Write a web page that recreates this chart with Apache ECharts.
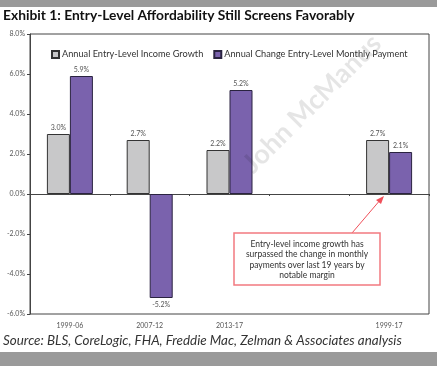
<!DOCTYPE html>
<html>
<head>
<meta charset="utf-8">
<script src="https://cdn.jsdelivr.net/npm/echarts@6/dist/echarts.min.js"></script>
<style>
html,body{margin:0;padding:0;background:#fff;}
#c{width:437px;height:366px;}
</style>
</head>
<body>
<div id="c"></div>
<script>
const categories = ['1999-06', '2007-12', '2013-17', '', '1999-17'];
const incomeGrowth = [3.0, 2.7, 2.2, null, 2.7];
const paymentChange = [5.9, -5.2, 5.2, null, 2.1];
const seriesNames = ['Annual Entry-Level Income Growth', 'Annual Change Entry-Level Monthly Payment'];
const yTicks = { min: -6, max: 8, interval: 2 };
const titleText = 'Exhibit 1: Entry-Level Affordability Still Screens Favorably';
const sourceText = 'Source: BLS, CoreLogic, FHA, Freddie Mac, Zelman & Associates analysis';
const noteLines = ['Entry-level income growth has', 'surpassed the change in monthly', 'payments over last 19 years by', 'notable margin'];

const chart = echarts.init(document.getElementById('c'), null, { renderer: 'canvas' });
const FONT = 'Lato, "Open Sans", sans-serif';
const labelCfg = {
  show: true, position: 'top', distance: 3, fontSize: 7, color: '#555', fontFamily: FONT,
  formatter: p => p.value == null ? '' : p.value.toFixed(1) + '%'
};
function mkData(arr) {
  return arr.map(v => (v != null && v < 0) ? { value: v, label: { position: 'bottom' } } : v);
}
const option = {
  backgroundColor: '#fff',
  animation: false,
  grid: { left: 30, right: 8, top: 34, bottom: 52, show: true, borderColor: '#444', borderWidth: 1, containLabel: false },
  legend: {
    left: 46, top: 45, itemWidth: 7, itemHeight: 7, itemGap: 10,
    icon: 'rect',
    textStyle: { fontSize: 9.2, color: '#333', fontFamily: FONT, padding: [0, 0, 0, -2] },
    data: seriesNames
  },
  xAxis: [
    {
      type: 'category', data: categories,
      axisLine: { onZero: true, lineStyle: { color: '#444', width: 1 } },
      axisTick: { show: true, length: 2, lineStyle: { color: '#444' } },
      axisLabel: { show: false }, splitLine: { show: false }
    },
    {
      type: 'category', data: categories, position: 'bottom',
      axisLine: { show: false }, axisTick: { show: false },
      axisLabel: { show: true, fontSize: 7, color: '#555', margin: 8, fontFamily: FONT }
    }
  ],
  yAxis: {
    type: 'value', min: yTicks.min, max: yTicks.max, interval: yTicks.interval,
    axisLine: { show: true, lineStyle: { color: '#444' } },
    axisTick: { show: true, length: 3, lineStyle: { color: '#444' } },
    splitLine: { show: false },
    axisLabel: { fontSize: 7, color: '#555', margin: 5, fontFamily: FONT, formatter: v => v.toFixed(1) + '%' }
  },
  series: [
    {
      name: seriesNames[0], type: 'bar', xAxisIndex: 0, data: mkData(incomeGrowth),
      barWidth: 23, barGap: '0%',
      itemStyle: { color: '#c8c8c9', borderColor: '#333', borderWidth: 1 },
      label: labelCfg
    },
    {
      name: seriesNames[1], type: 'bar', xAxisIndex: 0, data: mkData(paymentChange),
      barWidth: 23, barGap: '0%',
      itemStyle: { color: '#7a62ad', borderColor: '#2a2340', borderWidth: 1 },
      label: labelCfg
    }
  ],
  graphic: [
    { type: 'rect', left: 0, top: 0, shape: { width: 437, height: 7 }, style: { fill: '#9a9a9a' }, z: 10 },
    { type: 'rect', left: 0, top: 352, shape: { width: 437, height: 14 }, style: { fill: '#9a9a9a' }, z: 10 },
    { type: 'text', left: 3, top: 9, style: { text: titleText, fontSize: 13.8, fontWeight: 'bold', fill: '#111', fontFamily: FONT }, z: 10 },
    { type: 'text', left: 3, top: 334, style: { text: sourceText, fontSize: 13.4, fontStyle: 'italic', fill: '#333', fontFamily: FONT }, z: 10 },
    { type: 'text', x: 257, y: 178, rotation: Math.PI / 4, style: { text: 'John McManus', fontSize: 27, fontWeight: 'bold', fill: 'rgba(0,0,0,0.1)', fontFamily: FONT, textAlign: 'left', textVerticalAlign: 'bottom' }, z: 20, silent: true },
    { type: 'line', shape: { x1: 352, y1: 233, x2: 381, y2: 199 }, style: { stroke: '#f0505a', lineWidth: 1 }, z: 12 },
    { type: 'polygon', shape: { points: [[384, 196], [376, 200], [381, 204]] }, style: { fill: '#f0505a' }, z: 12 },
    { type: 'rect', shape: { x: 234, y: 233, width: 146, height: 52 }, style: { fill: '#fff', stroke: '#f27a80', lineWidth: 1.5 }, z: 12 },
    { type: 'text', x: 307, y: 239, style: { text: noteLines.join('\n'), fontSize: 8.5, lineHeight: 10.5, fill: '#333', textAlign: 'center', fontFamily: FONT }, z: 13 }
  ]
};
chart.setOption(option);
</script>
</body>
</html>
